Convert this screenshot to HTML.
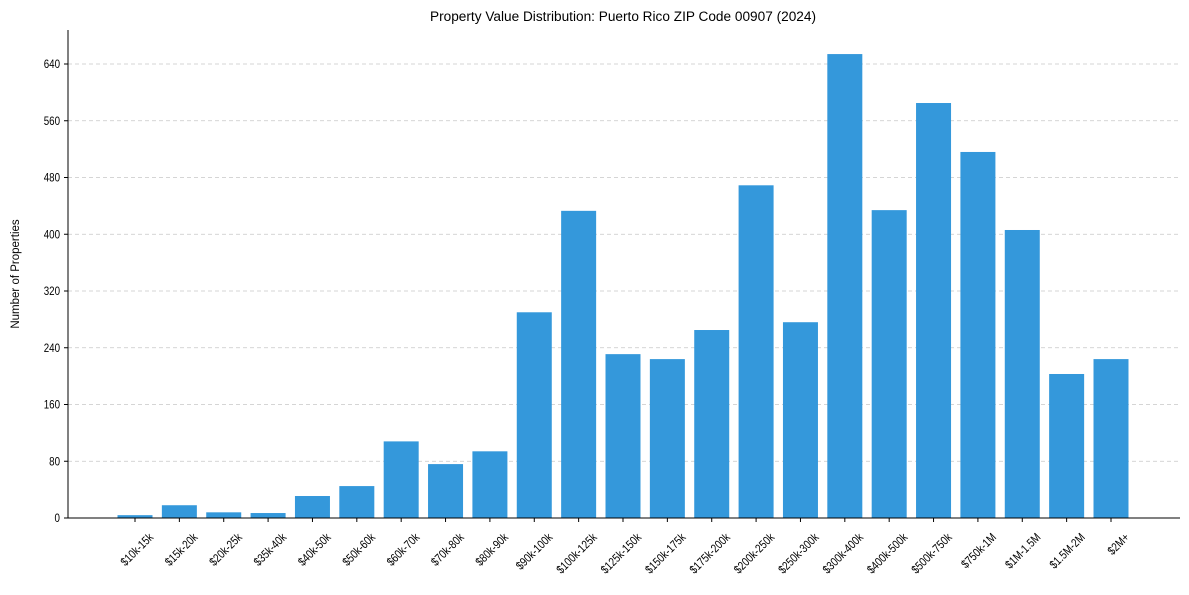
<!DOCTYPE html>
<html><head><meta charset="utf-8"><style>
body{margin:0;background:#fff;font-family:"Liberation Sans",Arial,sans-serif}
svg text{font-family:"Liberation Sans",Arial,sans-serif;fill:#000}
</style></head><body>
<svg id="c" width="1189" height="590">
<text x="623" y="21" font-size="13.5" text-anchor="middle" textLength="386" lengthAdjust="spacingAndGlyphs">Property Value Distribution: Puerto Rico ZIP Code 00907 (2024)</text>
<text transform="translate(19,274) rotate(-90)" font-size="11.5" text-anchor="middle">Number of Properties</text>
<g id="grid"></g><g id="bars"></g><g id="axes"></g>
</svg>
<script>
const categories=["$10k-15k","$15k-20k","$20k-25k","$35k-40k","$40k-50k","$50k-60k","$60k-70k","$70k-80k","$80k-90k","$90k-100k","$100k-125k","$125k-150k","$150k-175k","$175k-200k","$200k-250k","$250k-300k","$300k-400k","$400k-500k","$500k-750k","$750k-1M","$1M-1.5M","$1.5M-2M","$2M+"];
const values=[4,18,8,7,31,45,108,76,94,290,433,231,224,265,469,276,654,434,585,516,406,203,224];
const yTicks=[0,80,160,240,320,400,480,560,640];
const NS="http://www.w3.org/2000/svg";
const x0=68,x1=1180,y0=518,yTop=64;
function y(v){return y0-(v/640)*(y0-yTop);}
function xc(i){return 135+i*(1111-135)/(categories.length-1);}
const bw=35;
function mk(t,a,p){const e=document.createElementNS(NS,t);for(const k in a)e.setAttribute(k,a[k]);p.appendChild(e);return e;}
const g=document.getElementById('grid'),b=document.getElementById('bars'),ax=document.getElementById('axes');
yTicks.forEach(t=>{
  if(t>0){const l=mk('line',{x1:x0,x2:x1,y1:y(t),y2:y(t),stroke:'#c8c8c8','stroke-dasharray':'4,3','stroke-width':0.8},g);
  
  }
  mk('line',{x1:x0-4,x2:x0,y1:y(t),y2:y(t),stroke:'#000'},ax);
  const tx=mk('text',{transform:`translate(${x0-8},${y(t)+4}) scale(0.85,1)`,'font-size':11.5,'text-anchor':'end'},ax);tx.textContent=t;
  
  
});
values.forEach((v,i)=>{
  const r=mk('rect',{x:xc(i)-bw/2,y:y(v),width:bw,height:y0-y(v),fill:'#3498db'},b);
  
  
  mk('line',{x1:xc(i),x2:xc(i),y1:y0,y2:y0+4,stroke:'#000'},ax);
  const tx=mk('text',{transform:`translate(${xc(i)+19},${y0+20}) rotate(-45) scale(0.82,1)`,'font-size':12,'text-anchor':'end'},ax);
  tx.textContent=categories[i];
  
  
});
mk('line',{x1:x0,x2:x0,y1:30,y2:y0,stroke:'#000'},ax);
mk('line',{x1:x0,x2:x1,y1:y0,y2:y0,stroke:'#000'},ax);
</script>
</body></html>
